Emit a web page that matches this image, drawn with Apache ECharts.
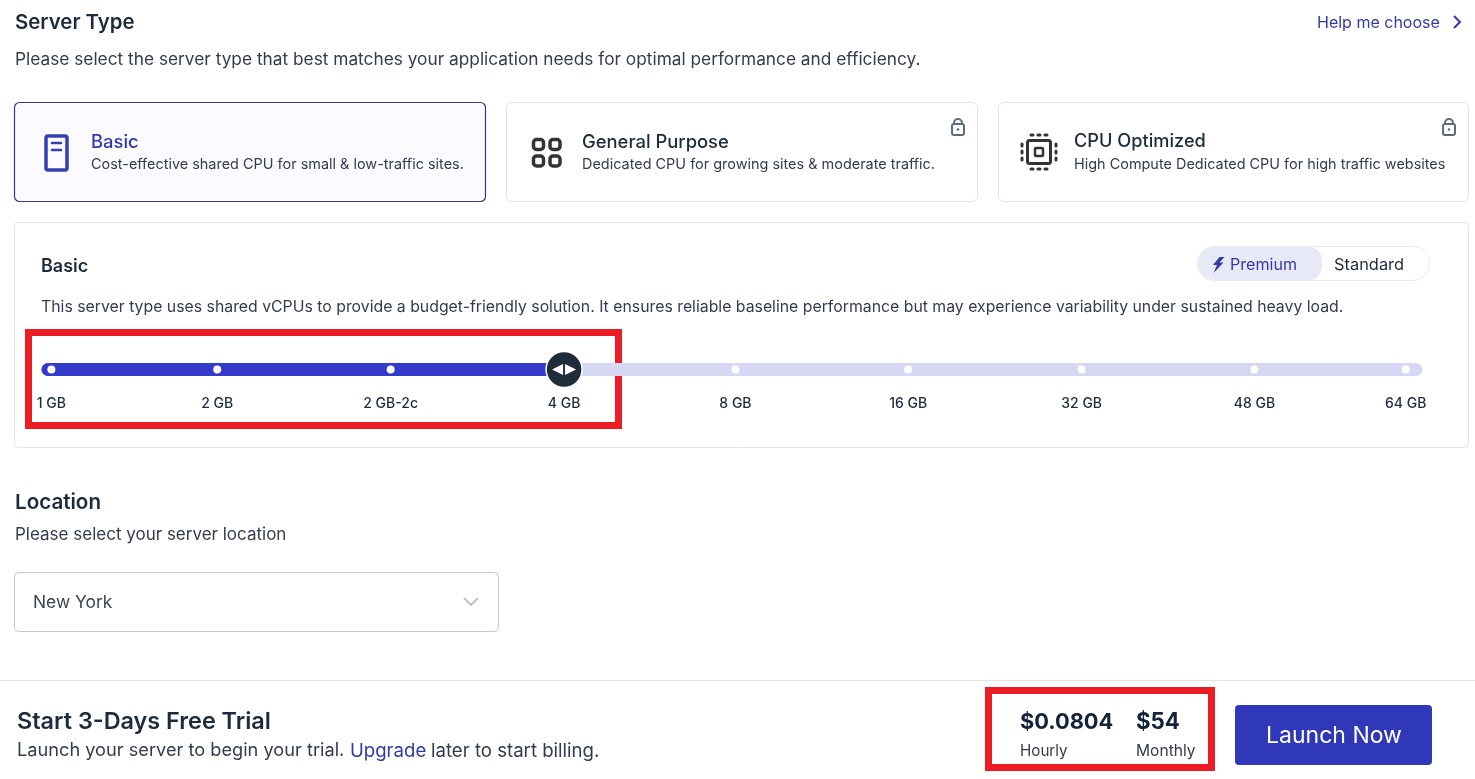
<!DOCTYPE html>
<html>
<head>
<meta charset="utf-8">
<title>Server Type</title>
<style>
  html, body { margin: 0; padding: 0; background: #fff; }
  #main { width: 1475px; height: 779px; }
</style>
<script src="https://cdn.jsdelivr.net/npm/echarts@6/dist/echarts.min.js"></script>
</head>
<body>
<div id="main"></div>
<script>
// slider data: RAM stops and where each one sits along the track (percent)
const stopLabels = ['1 GB', '2 GB', '2 GB-2c', '4 GB', '8 GB', '16 GB', '32 GB', '48 GB', '64 GB'];
const stopPercents = [0.75, 12.75, 25.3, 37.85, 50.25, 62.75, 75.3, 87.8, 98.75];
const selectedStop = 3;
const trackRange = [0.5, 99.5];

const cardTitles = ['Basic', 'General Purpose', 'CPU Optimized'];
const cardTexts = [
    'Cost-effective shared CPU for small & low-traffic sites.',
    'Dedicated CPU for growing sites & moderate traffic.',
    'High Compute Dedicated CPU for high traffic websites'
];
const priceValues = ['$0.0804', '$54'];
const priceLabels = ['Hourly', 'Monthly'];

const FONT = 'Inter, "Noto Sans", sans-serif';
const DARK = '#1e2b3c';
const BODY = '#333c4e';
const INDIGO = '#3439a8';
const RED = '#ec1c24';

function txt(x, y, text, size, weight, fill, align) {
    return {
        type: 'text', x: x, y: y + 1, z: 10,
        style: { text: text, fontFamily: FONT, fontSize: size, fontWeight: weight, fill: fill, align: align || 'left', verticalAlign: 'middle' }
    };
}
function box(x, y, w, h, r, fill, stroke, lineWidth) {
    return {
        type: 'rect', z: 5,
        shape: { x: x, y: y, width: w, height: h, r: r },
        style: { fill: fill, stroke: stroke, lineWidth: lineWidth || 1 }
    };
}
function seg(x1, y1, x2, y2, color, width) {
    return { type: 'line', z: 6, shape: { x1: x1, y1: y1, x2: x2, y2: y2 }, style: { stroke: color, lineWidth: width, lineCap: 'round' } };
}
function chevron(points, color, width) {
    return { type: 'polyline', z: 6, shape: { points: points }, style: { stroke: color, lineWidth: width, fill: 'none' } };
}
function lock(cx, cy) {
    return [
        box(cx - 6, cy - 3, 12, 11, 2, 'none', '#5f6b7a', 2),
        { type: 'arc', z: 6, shape: { cx: cx, cy: cy - 4, r: 4, startAngle: Math.PI, endAngle: 0 }, style: { stroke: '#5f6b7a', lineWidth: 2, fill: 'none' } },
        { type: 'circle', z: 6, shape: { cx: cx, cy: cy + 2.5, r: 1.3 }, style: { fill: '#5f6b7a' } }
    ];
}

const elements = [
    txt(15, 22, 'Server Type', 20.4, 600, DARK),
    txt(1317, 22, 'Help me choose', 16, 400, INDIGO),
    chevron([[1454, 16], [1460, 22], [1454, 28]], INDIGO, 2),
    txt(15, 59, 'Please select the server type that best matches your application needs for optimal performance and efficiency.', 17.3, 400, BODY),

    // type cards
    box(14.5, 102.5, 471, 99, 5, '#fafaff', '#34397f', 1.2),
    box(506.5, 102.5, 471, 99, 5, '#fff', '#e3e3e6'),
    box(998.5, 102.5, 470, 99, 5, '#fff', '#e3e3e6'),
    txt(91, 141, cardTitles[0], 18.4, 500, INDIGO),
    txt(91, 164, cardTexts[0], 14.45, 400, BODY),
    txt(582, 141, cardTitles[1], 18.4, 500, DARK),
    txt(582, 164, cardTexts[1], 14.45, 400, BODY),
    txt(1074, 141, cardTitles[2], 18.2, 500, DARK),
    txt(1074, 164, cardTexts[2], 14.45, 400, BODY),

    // server icon
    box(46, 136, 21, 34, 2, 'none', '#3440b0', 3.5),
    seg(52, 143, 61, 143, '#3440b0', 2.5),
    seg(52, 150, 61, 150, '#3440b0', 2.5),

    // grid icon
    box(533.5, 139.5, 10, 10, 3, 'none', '#333', 3.5),
    box(550, 139.5, 10, 10, 3, 'none', '#333', 3.5),
    box(533.5, 156, 10, 10, 3, 'none', '#333', 3.5),
    box(550, 156, 10, 10, 3, 'none', '#333', 3.5),

    // cpu icon
    box(1027.5, 140.5, 23, 23, 2, 'none', '#333', 3),
    box(1035, 148, 8, 8, 1, 'none', '#333', 2.5),

    ...lock(958, 127),
    ...lock(1449, 127),

    // panel
    box(14.5, 222.5, 1454, 225, 4, '#fff', '#e3e3e6'),
    txt(41, 266, 'Basic', 18, 600, DARK),
    box(1197.5, 246.5, 232, 34, 17, '#fff', '#ececf0'),
    box(1197.5, 246.5, 124.5, 34, [17, 14, 14, 17], '#e8e9f7', 'none', 0),
    { type: 'polygon', z: 7, shape: { points: [[1219.5, 257], [1213, 265], [1217, 265], [1213.5, 273], [1223.5, 262.5], [1219.5, 262.5], [1224.5, 257]] }, style: { fill: INDIGO } },
    txt(1230, 264, 'Premium', 16.1, 400, INDIGO),
    txt(1334, 264, 'Standard', 16.4, 400, DARK),
    txt(41, 306, 'This server type uses shared vCPUs to provide a budget-friendly solution. It ensures reliable baseline performance but may experience variability under sustained heavy load.', 15.82, 400, BODY),

    // location
    txt(15, 502, 'Location', 20.6, 600, DARK),
    txt(15, 534, 'Please select your server location', 17, 400, BODY),
    box(14.5, 572.5, 484, 59, 4, '#fff', '#c9c9cc'),
    txt(33, 602, 'New York', 17.4, 400, '#3c4552'),
    chevron([[464, 598], [471, 605], [478, 598]], '#c4c4c4', 2),

    // footer
    seg(0, 680.5, 1475, 680.5, '#e3e3e6', 1),
    txt(17, 721, 'Start 3-Days Free Trial', 23.4, 600, DARK),
    txt(17, 750, 'Launch your server to begin your trial.', 18.2, 400, BODY),
    txt(350, 750, 'Upgrade', 18.6, 400, INDIGO),
    txt(431, 750, 'later to start billing.', 18.6, 400, BODY),
    txt(1020, 721, priceValues[0], 21.8, 700, '#13233a'),
    txt(1136, 721, priceValues[1], 22.3, 700, '#13233a'),
    txt(1020, 750, priceLabels[0], 15.2, 400, BODY),
    txt(1136, 750, priceLabels[1], 15.6, 400, BODY),
    box(1235, 705, 197, 60, 4, '#2f38b8', 'none', 0),
    txt(1334, 735, 'Launch Now', 23, 400, '#fff', 'center'),

    // red call-out boxes
    box(28.5, 332.5, 590, 93, 0, 'none', RED, 7),
    box(988.5, 690.5, 223, 77, 0, 'none', RED, 7)
];

// tiny dots around the cpu icon
[1032, 1039, 1046].forEach(function (p) {
    elements.push(seg(p - 1, 135, p + 1, 135, '#333', 3));
    elements.push(seg(p - 1, 169, p + 1, 169, '#333', 3));
});
[145, 152, 159].forEach(function (p) {
    elements.push(seg(1022, p - 1, 1022, p + 1, '#333', 3));
    elements.push(seg(1056, p - 1, 1056, p + 1, '#333', 3));
});

const chart = echarts.init(document.getElementById('main'), null, { renderer: 'canvas' });

chart.setOption({
    animation: false,
    backgroundColor: '#fff',
    textStyle: { fontFamily: FONT },
    grid: { left: 41, width: 1382, top: 349.5, height: 40 },
    xAxis: { type: 'value', min: 0, max: 100, show: false },
    yAxis: { type: 'value', min: 0, max: 1, show: false },
    graphic: { elements: elements },
    series: [
        {
            type: 'line', z: 13, symbol: 'none', silent: true,
            data: [[trackRange[0], 0.5], [trackRange[1], 0.5]],
            lineStyle: { color: '#d6d8f3', width: 13, cap: 'round' }
        },
        {
            type: 'line', z: 14, symbol: 'none', silent: true,
            data: [[trackRange[0], 0.5], [stopPercents[selectedStop], 0.5]],
            lineStyle: { color: '#343ac9', width: 13, cap: 'round' }
        },
        {
            type: 'scatter', z: 15, symbol: 'circle', symbolSize: 8, silent: true,
            data: stopPercents.map(function (p, i) { return { value: [p, 0.5], name: stopLabels[i] }; }),
            itemStyle: { color: '#fff', opacity: 1 },
            label: {
                show: true, position: 'bottom', distance: 23,
                formatter: '{b}', fontFamily: FONT, fontSize: 14, fontWeight: 500, color: DARK
            }
        },
        {
            // slider handle
            type: 'scatter', z: 16, symbol: 'circle', symbolSize: 36, silent: true,
            data: [[stopPercents[selectedStop], 0.5]],
            itemStyle: { color: '#1f2c3a', borderColor: '#fff', borderWidth: 1.5, opacity: 1 }
        },
        {
            type: 'scatter', z: 17, symbol: 'triangle', symbolSize: 11, symbolRotate: 90, symbolOffset: [-6.5, 0], silent: true,
            data: [[stopPercents[selectedStop], 0.5]],
            itemStyle: { color: '#fff', opacity: 1 }
        },
        {
            type: 'scatter', z: 17, symbol: 'triangle', symbolSize: 11, symbolRotate: -90, symbolOffset: [6.5, 0], silent: true,
            data: [[stopPercents[selectedStop], 0.5]],
            itemStyle: { color: '#fff', opacity: 1 }
        }
    ]
});
</script>
</body>
</html>
